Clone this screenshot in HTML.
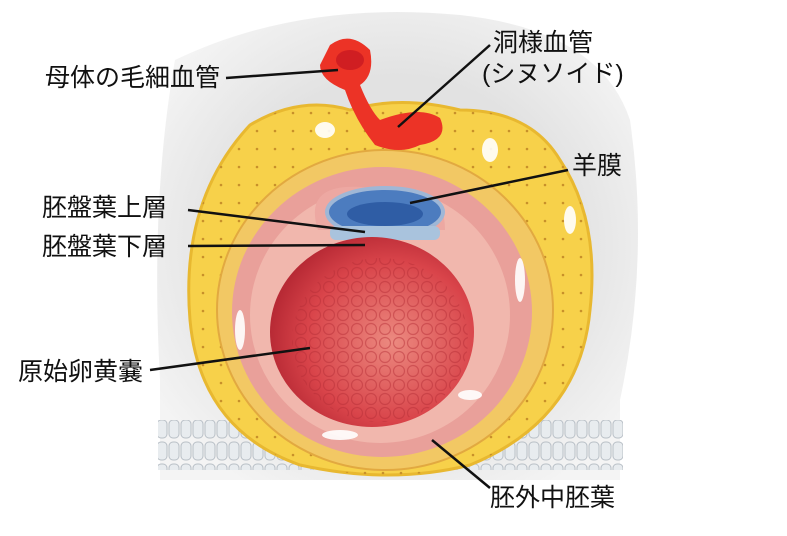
<!DOCTYPE html>
<html><head><meta charset="utf-8"><style>
html,body{margin:0;padding:0;background:#fff;}
svg{display:block}
text{font-family:"Liberation Sans","Noto Sans CJK JP",sans-serif;font-size:25px;fill:#111}
</style></head><body>
<svg width="787" height="536" viewBox="0 0 787 536">
<defs>
<radialGradient id="yolk" cx="0.6" cy="0.55" r="0.6">
<stop offset="0" stop-color="#ec8a80"/><stop offset="0.7" stop-color="#d9444a"/><stop offset="1" stop-color="#b82a35"/></radialGradient>
<radialGradient id="gray" cx="0.5" cy="0.5" r="0.6">
<stop offset="0.6" stop-color="#e2e2e2"/><stop offset="1" stop-color="#f4f4f4"/></radialGradient>
<pattern id="cells" width="14" height="14" patternUnits="userSpaceOnUse">
<circle cx="7" cy="7" r="5.5" fill="none" stroke="#b52c35" stroke-width="1.2" opacity="0.45"/></pattern>
<pattern id="gcells" width="12" height="22" patternUnits="userSpaceOnUse">
<rect x="1" y="2" width="10" height="18" rx="4" fill="#e8ecef" stroke="#b8bfc6"/></pattern>
<pattern id="dots" width="18" height="18" patternUnits="userSpaceOnUse">
<circle cx="5" cy="5" r="1.3" fill="#c8902a"/></pattern>
</defs>
<path d="M175 60 Q300 0 460 15 Q600 30 630 120 Q650 260 620 400 L620 480 L160 480 L160 380 Q150 200 175 60Z" fill="url(#gray)"/>
<rect x="158" y="420" width="465" height="50" fill="url(#gcells)"/>
<path d="M250 125 Q300 95 350 110 Q400 95 460 110 Q530 110 560 160 Q600 220 590 310 Q580 420 470 465 Q390 485 300 465 Q200 430 190 320 Q180 200 250 125Z" fill="#f7d14a" stroke="#e8b830" stroke-width="3"/>
<path d="M250 125 Q300 95 350 110 Q400 95 460 110 Q530 110 560 160 Q600 220 590 310 Q580 420 470 465 Q390 485 300 465 Q200 430 190 320 Q180 200 250 125Z" fill="url(#dots)"/>
<ellipse cx="385" cy="310" rx="168" ry="160" fill="#f2c864" stroke="#e2a940" stroke-width="2"/>
<ellipse cx="382" cy="312" rx="150" ry="145" fill="#e9a09a"/>
<ellipse cx="380" cy="315" rx="130" ry="128" fill="#f1b7ad"/>
<path d="M318 230 Q300 175 385 190 Q445 180 445 230Z" fill="#eda8a2"/>
<ellipse cx="385" cy="212" rx="58" ry="24" fill="#4c7cbf" stroke="#9fb7d6" stroke-width="4"/>
<ellipse cx="385" cy="214" rx="38" ry="12" fill="#2f5da5"/>
<rect x="330" y="226" width="110" height="14" rx="6" fill="#a9c3dd"/>
<ellipse cx="372" cy="332" rx="102" ry="95" fill="url(#yolk)"/>
<ellipse cx="380" cy="340" rx="88" ry="82" fill="url(#cells)"/>
<path d="M330 45 Q350 30 370 50 Q375 75 360 85 Q370 110 380 120 Q420 105 440 118 Q450 140 420 145 Q400 155 375 145 Q355 120 345 90 Q320 80 320 65Z" fill="#ec3326"/>
<ellipse cx="350" cy="60" rx="14" ry="10" fill="#d01e22"/>
<g fill="#fff" opacity="0.9">
<ellipse cx="240" cy="330" rx="5" ry="20"/><ellipse cx="520" cy="280" rx="5" ry="22"/>
<ellipse cx="340" cy="435" rx="18" ry="5"/><ellipse cx="470" cy="395" rx="12" ry="5"/>
<ellipse cx="325" cy="130" rx="10" ry="8"/><ellipse cx="490" cy="150" rx="8" ry="12"/>
<ellipse cx="570" cy="220" rx="6" ry="14"/>
</g>
<g stroke="#111" stroke-width="2.5" fill="none">
<line x1="226" y1="78" x2="338" y2="70"/>
<line x1="490" y1="45" x2="398" y2="127"/>
<line x1="568" y1="170" x2="410" y2="203"/>
<line x1="188" y1="210" x2="365" y2="232"/>
<line x1="188" y1="246" x2="365" y2="245"/>
<line x1="150" y1="370" x2="310" y2="348"/>
<line x1="490" y1="488" x2="432" y2="440"/>
</g>
<text x="45" y="86">母体の毛細血管</text>
<text x="493" y="51">洞様血管</text>
<text x="482" y="82">(シヌソイド)</text>
<text x="572" y="174">羊膜</text>
<text x="42" y="216">胚盤葉上層</text>
<text x="42" y="255">胚盤葉下層</text>
<text x="18" y="380">原始卵黄嚢</text>
<text x="490" y="506">胚外中胚葉</text>
</svg>
</body></html>
